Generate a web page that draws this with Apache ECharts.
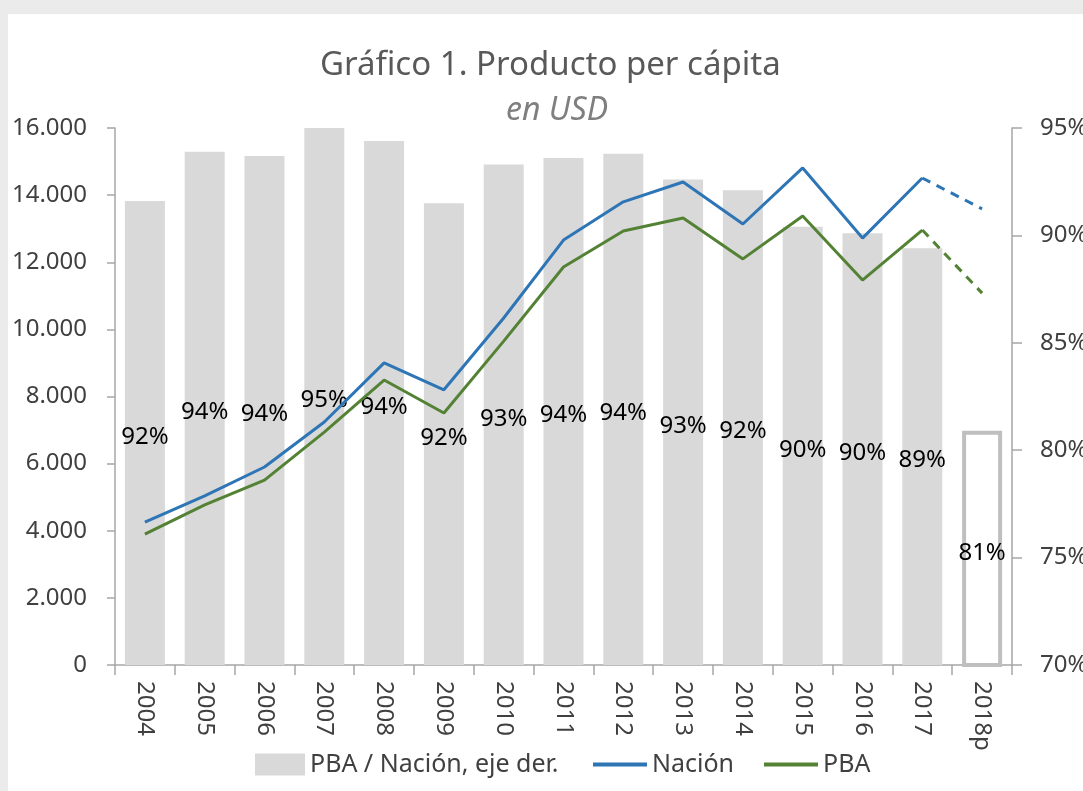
<!DOCTYPE html>
<html>
<head>
    <meta charset="utf-8">
    <title>Producto per cápita</title>
    <script src="https://cdn.jsdelivr.net/npm/echarts@6/dist/echarts.min.js"></script>
    <style>
        html, body { margin: 0; padding: 0; background: #ebebeb; }
        #main { position: absolute; left: 8px; top: 14px; width: 1075px; height: 777px; background: #ffffff; }
    </style>
</head>
<body>
    <div id="main"></div>
    <script type="text/javascript">
        var years = ['2004', '2005', '2006', '2007', '2008', '2009', '2010', '2011', '2012', '2013', '2014', '2015', '2016', '2017', '2018p'];
        // PBA / Nación (%), eje derecho
        var ratio = [91.6, 93.9, 93.7, 95.0, 94.4, 91.5, 93.3, 93.6, 93.8, 92.6, 92.1, 90.4, 90.1, 89.4, 80.9];
        // USD per cápita
        var nacion = [4260, 5040, 5900, 7240, 9000, 8200, 10340, 12660, 13800, 14390, 13140, 14810, 12720, 14510, 13590];
        var pba = [3900, 4770, 5510, 6940, 8490, 7510, 9650, 11860, 12930, 13320, 12100, 13380, 11470, 12960, 11080];

        var font = 'Noto Sans';
        var axisGrey = '#a6a6a6';
        var textGrey = '#404040';

        // last year is a projection: solid up to 2017, dashed 2017 -> 2018p
        function solidPart(arr) {
            return arr.map(function (v, i) { return i < arr.length - 1 ? v : null; });
        }
        function dashedPart(arr) {
            return arr.map(function (v, i) { return i >= arr.length - 2 ? v : null; });
        }

        var barData = ratio.map(function (v, i) {
            if (i === ratio.length - 1) {
                return { value: v, itemStyle: { color: '#ffffff', borderColor: '#bfbfbf', borderWidth: 4 } };
            }
            return v;
        });

        var legendText = { fontFamily: font, fontSize: 25, color: textGrey };
        function legendAt(left, width, item) {
            return {
                left: left, top: 733,
                itemWidth: width, itemHeight: 22,
                itemGap: 5,
                textStyle: legendText,
                lineStyle: { width: 4 },
                data: [item]
            };
        }

        var myChart = echarts.init(document.getElementById('main'));
        var option = {
            animation: false,
            textStyle: { fontFamily: font },
            title: [{
                text: 'Gráfico 1. Producto per cápita',
                left: 307,
                top: 30,
                textStyle: { fontFamily: font, fontWeight: 'normal', fontSize: 33, color: '#595959' }
            }, {
                text: 'en USD',
                left: 493,
                top: 76,
                textStyle: { fontFamily: font, fontWeight: 'normal', fontStyle: 'italic', fontSize: 32, color: '#7f7f7f' }
            }],
            legend: [
                legendAt(242, 50, { name: 'PBA / Nación, eje der.', icon: 'rect' }),
                legendAt(578, 54, { name: 'Nación', itemStyle: { opacity: 0 } }),
                legendAt(749, 54, { name: 'PBA', itemStyle: { opacity: 0 } })
            ],
            grid: { left: 107, right: 71, top: 114, bottom: 126, outerBoundsMode: 'none' },
            xAxis: [{
                type: 'category',
                data: years,
                boundaryGap: true,
                axisLine: { lineStyle: { color: axisGrey, width: 1.5 } },
                axisTick: { show: true, length: 10, lineStyle: { color: axisGrey, width: 1.5 } },
                axisLabel: { rotate: -90, margin: 16, fontFamily: font, fontSize: 24, color: textGrey }
            }],
            yAxis: [{
                type: 'value',
                min: 0, max: 16000, interval: 2000,
                splitLine: { show: false },
                axisLine: { show: true, lineStyle: { color: axisGrey, width: 1.5 } },
                axisTick: { show: true, length: 8, lineStyle: { color: axisGrey, width: 1.5 } },
                axisLabel: {
                    margin: 28, fontFamily: font, fontSize: 24, color: textGrey,
                    formatter: function (v) { return String(v).replace(/\B(?=(\d{3})+(?!\d))/g, '.'); }
                }
            }, {
                type: 'value',
                position: 'right',
                min: 70, max: 95, interval: 5,
                splitLine: { show: false },
                axisLine: { show: true, lineStyle: { color: axisGrey, width: 1.5 } },
                axisTick: { show: true, length: 10, lineStyle: { color: axisGrey, width: 1.5 } },
                axisLabel: { margin: 28, fontFamily: font, fontSize: 24, color: textGrey, formatter: '{value}%' }
            }],
            series: [{
                name: 'PBA / Nación, eje der.',
                type: 'bar',
                yAxisIndex: 1,
                barWidth: 40,
                itemStyle: { color: '#d9d9d9' },
                label: {
                    show: true,
                    position: 'inside',
                    offset: [0, 4],
                    fontFamily: font,
                    fontSize: 24,
                    color: '#000000',
                    formatter: function (p) { return Math.round(p.value) + '%'; }
                },
                data: barData
            }, {
                name: 'Nación',
                type: 'line',
                symbol: 'none',
                lineStyle: { color: '#2e75b6', width: 3 },
                itemStyle: { color: '#2e75b6' },
                data: solidPart(nacion)
            }, {
                name: 'PBA',
                type: 'line',
                symbol: 'none',
                lineStyle: { color: '#548235', width: 3 },
                itemStyle: { color: '#548235' },
                data: solidPart(pba)
            }, {
                name: 'Nación proy',
                type: 'line',
                symbol: 'none',
                lineStyle: { color: '#2e75b6', width: 3, type: [9, 7] },
                data: dashedPart(nacion)
            }, {
                name: 'PBA proy',
                type: 'line',
                symbol: 'none',
                lineStyle: { color: '#548235', width: 3, type: [9, 7] },
                data: dashedPart(pba)
            }]
        };
        myChart.setOption(option);
    </script>
</body>
</html>
